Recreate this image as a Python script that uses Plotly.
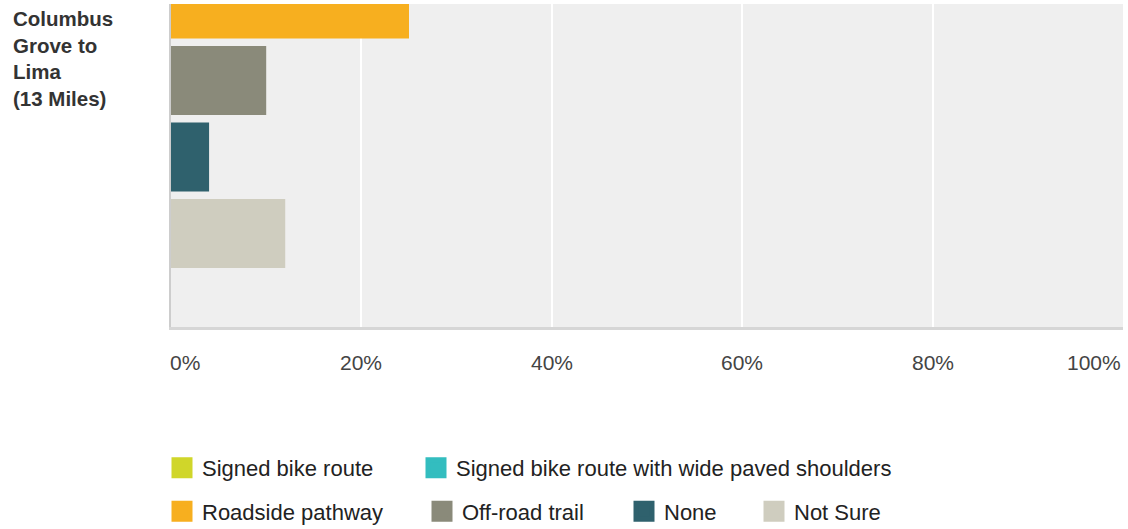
import plotly.graph_objects as go

category = ["Columbus Grove to Lima (13 Miles)"]
series_names = [
    "Signed bike route",
    "Signed bike route with wide paved shoulders",
    "Roadside pathway",
    "Off-road trail",
    "None",
    "Not Sure",
]
series_values = [26, 23, 25, 10, 4, 12]
series_colors = ["#D0D62A", "#33BDBF", "#F7AF1F", "#8A8A7A", "#2F616D", "#CFCDBF"]
tick_values = [0, 20, 40, 60, 80, 100]
tick_labels = ["0%", "20%", "40%", "60%", "80%", "100%"]

W, H = 1128, 529
ML, MR, MT, MB = 171, 5, 4, 202
PW, PH = W - ML - MR, H - MT - MB

def px_x(p):
    return (p - ML) / PW

def px_y(p):
    return (H - MB - p) / PH

FONT = "Arial, Liberation Sans, sans-serif"
fig = go.Figure()

# legend placement (one legend box per entry to mimic the wrapped layout)
legend_pos = [(162, 468), (416, 468), (162, 511.5), (422, 511.5), (624, 511.5), (754, 511.5)]

for i, (name, val, col) in enumerate(zip(series_names, series_values, series_colors)):
    fig.add_trace(go.Bar(
        y=category, x=[val], name=name, orientation="h",
        marker=dict(color=col, line=dict(width=0)),
        showlegend=False, hovertemplate="%{x}%<extra>" + name + "</extra>",
    ))
    lg = "legend" if i == 0 else f"legend{i + 1}"
    fig.add_trace(go.Scatter(
        x=[None], y=[None], mode="markers", name=name,
        marker=dict(symbol="square", size=16, color=col, line=dict(color=col, width=5)),
        legend=lg, showlegend=True, hoverinfo="skip",
    ))

legends = {}
for i, (lx, ly) in enumerate(legend_pos):
    key = "legend" if i == 0 else f"legend{i + 1}"
    legends[key] = dict(
        x=px_x(lx), y=px_y(ly), xanchor="left", yanchor="middle",
        orientation="h", font=dict(family=FONT, size=22, color="#222222"),
        bgcolor="rgba(0,0,0,0)", borderwidth=0,
    )

annotations = []
for v, t in zip(tick_values, tick_labels):
    first, last = v == tick_values[0], v == tick_values[-1]
    anchor = "left" if first else ("right" if last else "center")
    annotations.append(dict(
        x=v, xref="x", y=px_y(362.5), yref="paper", text=t, showarrow=False,
        xanchor=anchor, yanchor="middle", xshift=-3 if first else 0,
        font=dict(family=FONT, size=21, color="#444444"),
    ))
annotations.append(dict(
    x=px_x(11), xref="paper", y=px_y(5), yref="paper",
    text="<b>Columbus<br>Grove to<br>Lima<br>(13 Miles)</b>",
    showarrow=False, xanchor="left", yanchor="top", align="left",
    font=dict(family=FONT, size=20.5, color="#333333"),
))

fig.update_layout(
    width=W, height=H,
    margin=dict(l=ML, r=MR, t=MT, b=MB, autoexpand=False),
    paper_bgcolor="white", plot_bgcolor="#EFEFEF",
    barmode="group", bargap=0.2, bargroupgap=0.098,
    annotations=annotations,
    **legends,
)
fig.update_xaxes(
    range=[0, 100], tickvals=tick_values, showticklabels=False,
    showgrid=True, gridcolor="white", gridwidth=2, zeroline=False,
    showline=True, linecolor="#D6D6D6", linewidth=3, ticks="",
)
fig.update_yaxes(
    type="category", range=[0.4963, -0.0667], showticklabels=False,
    showgrid=False, zeroline=False, showline=True, linecolor="#CDCDCD",
    linewidth=2, ticks="",
)

fig.write_html(
    "out.html",
    config={"displayModeBar": False},
    post_script="document.body.style.margin='0px';",
)
